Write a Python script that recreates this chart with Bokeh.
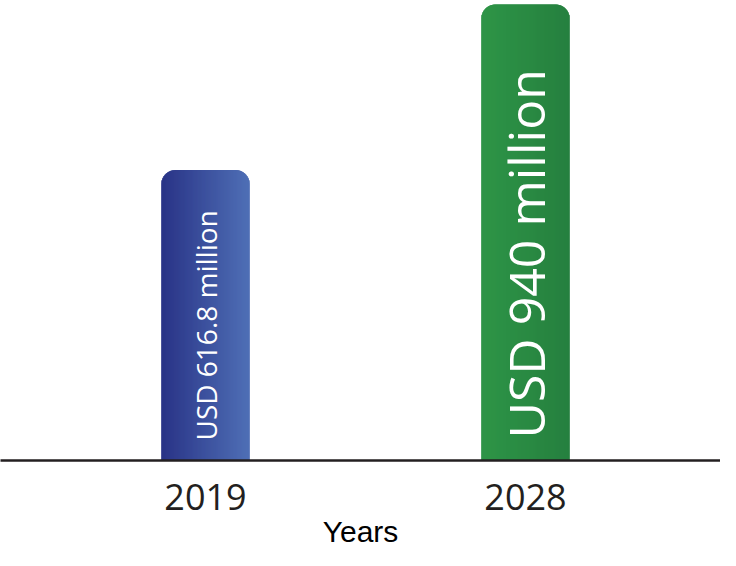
import numpy as np
from bokeh.plotting import figure
from bokeh.models import Range1d, FixedTicker, ColumnDataSource
from bokeh.core.properties import value
from bokeh.embed import file_html
from bokeh.resources import INLINE

# ---- data ----
years = ["2019", "2028"]
market_usd_million = [616.8, 940]
bar_labels = ["USD 616.8 million", "USD 940 million"]

# ---- styling ----
W, H = 720, 550
B = 89                      # bottom border (axis area)
FRAME_H = H - B
Y0 = 50.0                   # value axis baseline as in reference
PX_PER_Y = 457 / (940 - Y0)
Y1 = Y0 + FRAME_H / PX_PER_Y
PX_PER_X = 320.0
X_START = -205 / PX_PER_X
X_END = X_START + W / PX_PER_X
BAR_W = 88 / PX_PER_X
RADIUS_PX = 14
grad_left = [(0x28, 0x31, 0x84), (0x2f, 0x96, 0x48)]
grad_right = [(0x51, 0x72, 0xb8), (0x26, 0x7f, 0x3f)]
label_sizes = ["28px", "50px"]
label_offsets = [-20, -22]

xs = list(range(len(years)))

p = figure(width=W, height=H, output_backend="svg", toolbar_location=None,
           x_range=Range1d(X_START, X_END), y_range=Range1d(Y0, Y1),
           min_border_left=0, min_border_right=0, min_border_top=0,
           min_border_bottom=B)
p.outline_line_color = None
p.grid.visible = False
p.yaxis.visible = False
p.background_fill_color = "white"
p.border_fill_color = "white"

def hexc(c):
    return "#%02x%02x%02x" % tuple(int(round(v)) for v in c)

# base bars (mean colour, rounded top)
mean_cols = [hexc([(a + b) / 2 for a, b in zip(l, r)]) for l, r in zip(grad_left, grad_right)]
p.vbar(x=xs, top=market_usd_million, bottom=0, width=BAR_W, fill_color=mean_cols,
       line_color=None, border_radius=(RADIUS_PX, RADIUS_PX, 0, 0))

# horizontal gradient emulated by thin strips following the rounded top
npx = 88
sx, stop, scol, sw = [], [], [], []
for i, (xc, v) in enumerate(zip(xs, market_usd_million)):
    for k in range(npx):
        d = min(k, npx - 1 - k) + 0.5
        drop = 0.0
        if d < RADIUS_PX:
            drop = RADIUS_PX - np.sqrt(RADIUS_PX ** 2 - (RADIUS_PX - d) ** 2)
        t = k / (npx - 1)
        col = [grad_left[i][j] * (1 - t) + grad_right[i][j] * t for j in range(3)]
        sx.append(xc - BAR_W / 2 + (k + 0.5) / PX_PER_X)
        stop.append(v - drop / PX_PER_Y)
        scol.append(hexc(col))
        sw.append(1.4 / PX_PER_X)
p.vbar(x=sx, top=stop, bottom=0, width=sw, fill_color=scol, line_color=None)

# in-bar labels
src = ColumnDataSource(dict(x=xs, y=[Y0] * len(xs), text=bar_labels, size=label_sizes,
                            yo=label_offsets))
p.text(x="x", y="y", text="text", source=src, angle=np.pi / 2, text_align="left",
       text_baseline="middle", text_color="white", text_font=value("Open Sans"),
       text_font_size="size", y_offset="yo")

# x axis
ax = p.xaxis[0]
ax.ticker = FixedTicker(ticks=xs)
ax.major_label_overrides = {x: y for x, y in zip(xs, years)}
ax.axis_line_color = "#231f20"
ax.axis_line_width = 2.5
ax.major_tick_line_color = None
ax.minor_tick_line_color = None
ax.major_label_text_font = "Open Sans"
ax.major_label_text_font_size = "36px"
ax.major_label_text_color = "#231f20"
ax.major_label_standoff = 17
ax.axis_label = "Years"
ax.axis_label_text_font = "Liberation Sans"
ax.axis_label_text_font_size = "30px"
ax.axis_label_text_font_style = "normal"
ax.axis_label_text_color = "black"
ax.axis_label_standoff = 2

open("out.html", "w").write(file_html(p, INLINE))
